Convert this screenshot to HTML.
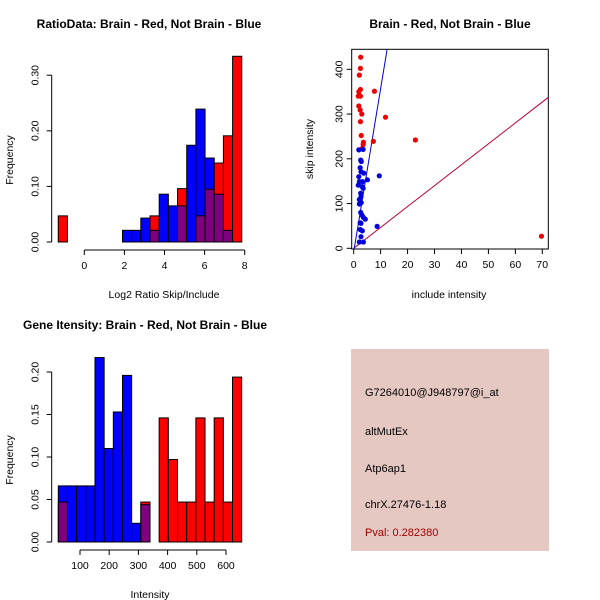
<!DOCTYPE html>
<html><head><meta charset="utf-8"><style>
body{margin:0;background:#fff}
svg{display:block;font-family:"Liberation Sans",sans-serif}
</style></head><body>
<svg id="c" width="600" height="600" viewBox="0 0 600 600">
<rect width="600" height="600" fill="#fff"/>
<g id="p1"></g>
<g id="p2"></g>
<g id="p3"></g>
<g id="p4">
<rect x="351" y="349" width="198" height="202" fill="#e6c8c2"/>
<text x="365" y="396" font-size="11" fill="#000">G7264010@J948797@i_at</text>
<text x="365" y="435" font-size="11" fill="#000">altMutEx</text>
<text x="365" y="472" font-size="11" fill="#000">Atp6ap1</text>
<text x="365" y="508" font-size="11" fill="#000">chrX.27476-1.18</text>
<text x="365" y="536" font-size="11" fill="#a00000">Pval: 0.282380</text>
</g>
</svg>
<script>
// Histogram 1 data (log2 ratio), 20 bins
const ratioBinStart = -1.30;
const ratioBinWidth = 0.4577;
const ratioRed  = [0.047,0,0,0,0,0,0,0,0,0,0.047,0,0,0.096,0,0.047,0.095,0.142,0.191,0.334];
const ratioBlue = [0,0,0,0,0,0,0,0.021,0.021,0.043,0.021,0.086,0.065,0.065,0.174,0.239,0.151,0.086,0.021,0];
const ratioXTicks = [0,2,4,6,8];
const ratioYTicks = [0,0.1,0.2,0.3];
const ratioYLabels = ["0.00","0.10","0.20","0.30"];

// Histogram 2 data (intensity), 20 bins
const intBinStart = 25.7;
const intBinWidth = 31.4;
const intRed  = [0.047,0,0,0,0,0,0,0,0,0.047,0,0.146,0.097,0.047,0.047,0.146,0.047,0.146,0.047,0.194];
const intBlue = [0.066,0.066,0.066,0.066,0.217,0.110,0.153,0.196,0.022,0.044,0,0,0,0,0,0,0,0,0,0];
const intXTicks = [100,200,300,400,500,600];
const intYTicks = [0,0.05,0.1,0.15,0.2];
const intYLabels = ["0.00","0.05","0.10","0.15","0.20"];

// Scatter data
const redX = [2.6,2.5,2.1,1.9,2.5,2.5,1.7,7.7,1.9,2.4,3.0,2.5,11.8,2.8,3.6,3.5,7.3,22.9,3.1,69.7];
const redY = [427,402,387,350,355,340,340,351,318,309,300,283,293,252,237,232,239,242,223,27];
const blueX = [1.9,3.5,2.6,2.8,2.4,2.7,3.7,1.9,9.5,5.1,2.1,3.3,1.7,3.1,3.5,2.6,2.7,2.1,2.8,2.1,2.6,3.1,3.6,4.3,2.4,2.7,8.7,2.4,3.2,2.7,2.1,3.6];
const blueY = [220,221,197,194,180,171,168,160,162,153,149,149,141,138,134,123,115,109,102,99,80,74,69,65,57,56,49,42,39,26,14,14];
const scXTicks = [0,10,20,30,40,50,60,70];
const scYTicks = [0,100,200,300,400];
const blueLine = {a:-8, b:36.5};
const redLine = {a:0, b:4.67};

const NS="http://www.w3.org/2000/svg";
function mk(parent,tag,attrs,name){const e=document.createElementNS(NS,tag);for(const k in attrs)e.setAttribute(k,attrs[k]);


parent.appendChild(e);return e;}
function txt(parent,x,y,s,opts,name){const t=mk(parent,'text',Object.assign({x:x,y:y,'font-size':10.5,'text-anchor':'middle',fill:'#000'},opts||{}),name);t.textContent=s;return t;}

function hist(g,cfg){
  const xs=v=>cfg.px0+(v-cfg.x0)*cfg.kx;
  const ys=v=>cfg.base-v*cfg.ky;
  const n=cfg.red.length;
  for(let i=0;i<n;i++){
    const l=xs(cfg.start+i*cfg.w), r=xs(cfg.start+(i+1)*cfg.w);
    const R=cfg.red[i],B=cfg.blue[i];
    const hi=Math.max(R,B), lo=Math.min(R,B);
    if(hi>0){
      mk(g,'rect',{x:l,y:ys(hi),width:r-l,height:cfg.base-ys(hi),fill:R>=B?'#ff0000':'#0000ff',stroke:'#000','stroke-width':1},'bar-'+(R>=B?'red':'blue')+'-'+i);
    }
    if(lo>0){
      mk(g,'rect',{x:l,y:ys(lo),width:r-l,height:cfg.base-ys(lo),fill:'#7f007f',stroke:'#000','stroke-width':1},'bar-overlap-'+i);
    }
  }
  const t0=xs(cfg.xt[0]),t1=xs(cfg.xt[cfg.xt.length-1]);
  mk(g,'line',{x1:t0,x2:t1,y1:cfg.axY,y2:cfg.axY,stroke:'#000'},'x-axis-line');
  cfg.xt.forEach(v=>{mk(g,'line',{x1:xs(v),x2:xs(v),y1:cfg.axY,y2:cfg.axY+5,stroke:'#000'},'x-tick');
    txt(g,xs(v),cfg.axY+19,String(v),{},'x-tick-label');});
  mk(g,'line',{x1:cfg.axX,x2:cfg.axX,y1:ys(cfg.yt[0]),y2:ys(cfg.yt[cfg.yt.length-1]),stroke:'#000'},'y-axis-line');
  cfg.yt.forEach((v,i)=>{mk(g,'line',{x1:cfg.axX,x2:cfg.axX-5,y1:ys(v),y2:ys(v),stroke:'#000'},'y-tick');
    txt(g,cfg.axX-13,ys(v),cfg.yl[i],{transform:'rotate(-90 '+(cfg.axX-13)+' '+ys(v)+')','text-anchor':'middle'},'y-tick-label');});
  txt(g,cfg.titleX,cfg.titleY,cfg.title,{'font-weight':'bold','font-size':12},'chart-title');
  txt(g,cfg.xlabX,cfg.xlabY,cfg.xlab,{},'x-axis-title');
  txt(g,13,cfg.ylabY,'Frequency',{transform:'rotate(-90 13 '+cfg.ylabY+')'},'y-axis-title');
}

hist(document.getElementById('p1'),{red:ratioRed,blue:ratioBlue,start:ratioBinStart,w:ratioBinWidth,
  x0:0,px0:84.3,kx:20.05,base:242,ky:556,axY:250,axX:51.7,xt:ratioXTicks,yt:ratioYTicks,yl:ratioYLabels,
  title:'RatioData: Brain - Red, Not Brain - Blue',titleX:149,titleY:28,xlab:'Log2 Ratio Skip/Include',xlabX:164,xlabY:298,ylabY:160});
hist(document.getElementById('p3'),{red:intRed,blue:intBlue,start:intBinStart,w:intBinWidth,
  x0:100,px0:80,kx:0.292,base:542,ky:850,axY:550,axX:51.7,xt:intXTicks,yt:intYTicks,yl:intYLabels,
  title:'Gene Itensity: Brain - Red, Not Brain - Blue',titleX:145,titleY:329,xlab:'Intensity',xlabX:150,xlabY:598,ylabY:460});

(function(){
  const g=document.getElementById('p2');
  const L=351.7,R=548.3,T=49.3,B=249;
  const xs=v=>353.7+v*2.694, ys=v=>248.3-v*0.4475;
  mk(g,'rect',{x:L,y:T,width:R-L,height:B-T,fill:'none',stroke:'#000'},'plot-frame');
  const clip=mk(g,'clipPath',{id:'scClip'},'clip');
  mk(clip,'rect',{x:L,y:T,width:R-L,height:B-T},'clip-rect');
  const inner=mk(g,'g',{'clip-path':'url(#scClip)'},'plot-area');
  mk(inner,'line',{x1:xs(0),y1:ys(redLine.a),x2:xs(80),y2:ys(redLine.a+redLine.b*80),stroke:'#c00030','stroke-width':1},'red-fit-line');
  mk(inner,'line',{x1:xs(0),y1:ys(blueLine.a),x2:xs(14),y2:ys(blueLine.a+blueLine.b*14),stroke:'#0000cc','stroke-width':1},'blue-fit-line');
  redX.forEach((x,i)=>mk(inner,'circle',{cx:xs(x),cy:ys(redY[i]),r:2.6,fill:'#ee0000'},'red-point'));
  blueX.forEach((x,i)=>mk(inner,'circle',{cx:xs(x),cy:ys(blueY[i]),r:2.6,fill:'#0000dd'},'blue-point'));
  scXTicks.forEach(v=>{mk(g,'line',{x1:xs(v),x2:xs(v),y1:B,y2:B+5,stroke:'#000'},'x-tick');txt(g,xs(v),B+19,String(v),{},'x-tick-label');});
  scYTicks.forEach(v=>{mk(g,'line',{x1:L,x2:L-5,y1:ys(v),y2:ys(v),stroke:'#000'},'y-tick');
    txt(g,L-9,ys(v),String(v),{transform:'rotate(-90 '+(L-9)+' '+ys(v)+')'},'y-tick-label');});
  txt(g,450,28,'Brain - Red, Not Brain - Blue',{'font-weight':'bold','font-size':12},'chart-title');
  txt(g,449,298,'include intensity',{},'x-axis-title');
  txt(g,313,149,'skip intensity',{transform:'rotate(-90 313 149)'},'y-axis-title');
})();
</script>
</body></html>
